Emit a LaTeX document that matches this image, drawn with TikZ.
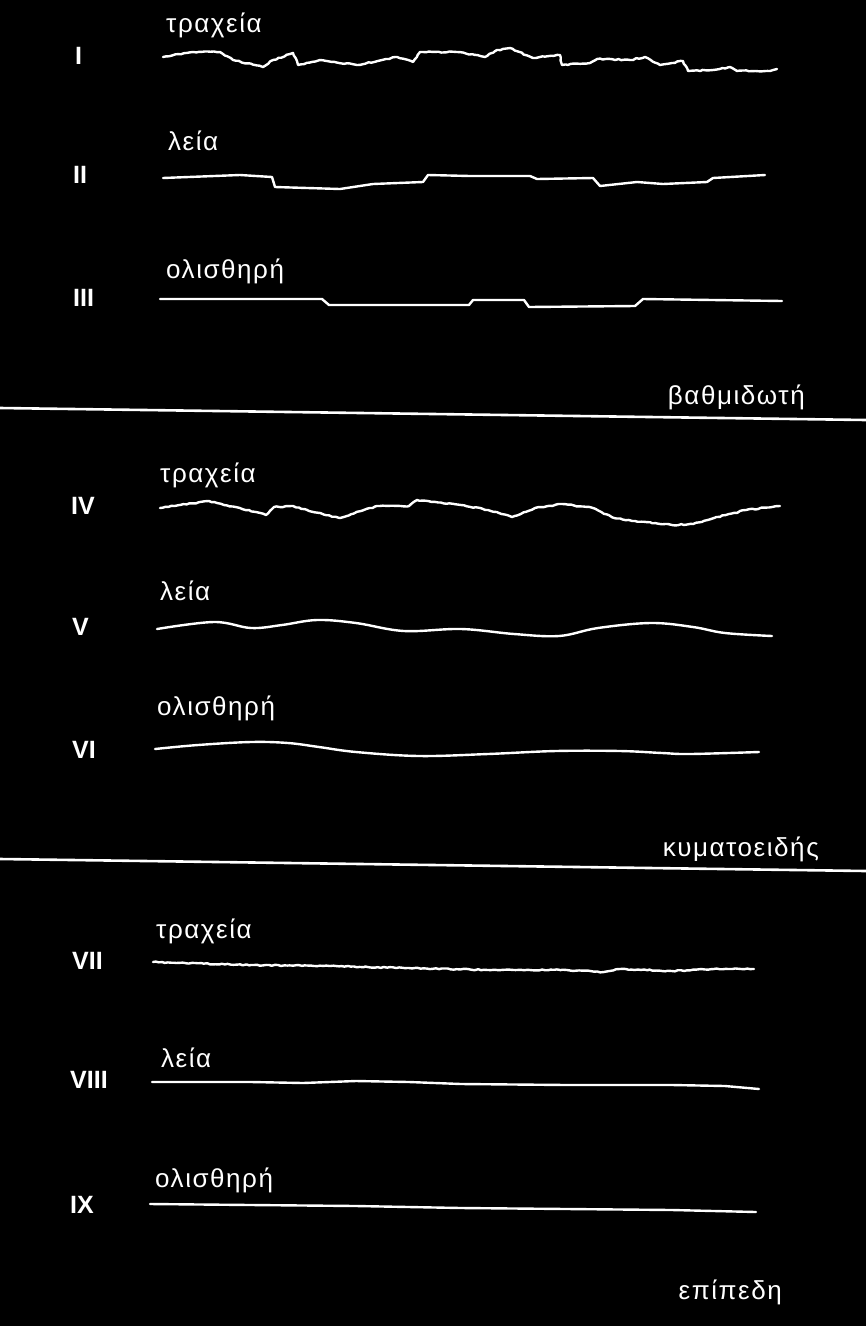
\documentclass[tikz,border=0pt]{standalone}
\usepackage{fontspec}
\setmainfont{Liberation Sans}
\newfontfamily\labelfont{Liberation Sans}[LetterSpace=6]
\usetikzlibrary{decorations.pathmorphing}

\tikzset{
  profile/.style={white, line width=2.4pt, line join=round, line cap=round},
  rough/.style={decorate, decoration={random steps, segment length=3pt, amplitude=0.6pt}},
  cut/.style={white, line width=2.6pt},
  numeral/.style={white, anchor=west, inner sep=0pt, font=\fontsize{25}{27}\selectfont\bfseries},
  kind/.style={white, anchor=base west, inner sep=0pt, font=\labelfont\fontsize{26}{28}\selectfont},
  group/.style={white, anchor=base east, inner sep=0pt, font=\labelfont\fontsize{26}{28}\selectfont}
}

\begin{document}
\begin{tikzpicture}[x=1pt,y=-1pt]
        \pgfmathsetseed{7}
        \useasboundingbox (0,0) rectangle (866,1326);
        \fill[black] (0,0) rectangle (866,1326);

        % Numbers of the rows
        \node[numeral] (n1) at (75,56) {I};
        \node[numeral] (n2) at (73,175) {II};
        \node[numeral] (n3) at (73,298) {III};
        \node[numeral] (n4) at (71,506) {IV};
        \node[numeral] (n5) at (72,627) {V};
        \node[numeral] (n6) at (72,750) {VI};
        \node[numeral] (n7) at (72,961) {VII};
        \node[numeral] (n8) at (70,1080) {VIII};
        \node[numeral] (n9) at (70,1205) {IX};

        % Labels above the profiles
        \node[kind] (k1) at (166,32) {τραχεία};
        \node[kind] (k2) at (168,150) {λεία};
        \node[kind] (k3) at (166,278) {ολισθηρή};
        \node[kind] (k4) at (160,482) {τραχεία};
        \node[kind] (k5) at (160,600) {λεία};
        \node[kind] (k6) at (157,715) {ολισθηρή};
        \node[kind] (k7) at (156,938) {τραχεία};
        \node[kind] (k8) at (161,1067) {λεία};
        \node[kind] (k9) at (155,1187) {ολισθηρή};

        % Names of the groups
        \node[group] (g1) at (805,404) {βαθμιδωτή};
        \node[group] (g2) at (819,856) {κυματοειδής};
        \node[group] (g3) at (782,1299) {επίπεδη};

        % Lines between the groups
        \draw[cut] (0,408) -- (866,420);
        \draw[cut] (0,859) -- (866,871);

        % Stepped profiles
        \draw[profile, rough] (163,57) -- (193,52) -- (220,52) -- (233,60) -- (263,67) -- (273,60)
          -- (293,53) -- (298,65) -- (320,60) -- (357,65) -- (397,57) -- (413,62) -- (420,52)
          -- (457,52) -- (485,57) -- (497,50) -- (510,48) -- (533,58) -- (560,55) -- (562,65)
          -- (590,63) -- (597,59) -- (630,60) -- (645,57) -- (660,65) -- (683,61) -- (688,71)
          -- (713,70) -- (730,67) -- (737,71) -- (770,71) -- (777,69);
        \draw[profile] (163,178) -- (240,175) -- (272,177) -- (275,187) -- (340,189) -- (373,184)
          -- (423,182) -- (428,175) -- (470,176) -- (530,176) -- (537,179) -- (593,178) -- (600,186)
          -- (637,182) -- (663,184) -- (707,182) -- (713,178) -- (765,175);
        \draw[profile] (160,299) -- (322,299) -- (329,305) -- (469,305) -- (473,300) -- (524,300)
          -- (529,307) -- (635,306) -- (643,299) -- (782,301);

        % Wavy profiles
        \draw[profile, rough] (160,508) -- (209,501) -- (224,505) -- (240,508) -- (266,515) -- (274,507)
          -- (293,506) -- (309,511) -- (340,518) -- (361,511) -- (377,506) -- (409,506) -- (417,500)
          -- (461,505) -- (488,510) -- (512,517) -- (535,508) -- (562,504) -- (593,508) -- (614,518)
          -- (635,521) -- (672,525) -- (693,524) -- (714,518) -- (746,510) -- (780,506);
        \draw[profile] plot[smooth, tension=0.6] coordinates {(157,629) (214,622) (251,628) (282,625)
          (317,620) (356,623) (404,631) (461,629) (514,634) (559,636) (598,628) (651,623) (693,627)
          (725,633) (772,636)};
        \draw[profile] plot[smooth, tension=0.6] coordinates {(155,749) (198,745) (251,742) (288,743)
          (319,747) (356,752) (419,756) (488,754) (556,751) (620,751) (662,753) (690,754)
          (759,752)};

        % Flat profiles
        \draw[profile, rough] (153,962) -- (251,965) -- (330,966) -- (409,968) -- (488,970) -- (567,970)
          -- (604,972) -- (620,969) -- (672,971) -- (714,969) -- (754,969);
        \draw[profile] (152,1082) -- (251,1082) -- (303,1083) -- (356,1081) -- (409,1082) -- (461,1084)
          -- (567,1085) -- (672,1085) -- (725,1086) -- (759,1089);
        \draw[profile] (150,1204) -- (251,1205) -- (356,1206) -- (461,1208) -- (567,1209) -- (672,1210)
          -- (756,1212);
\end{tikzpicture}
\end{document}
